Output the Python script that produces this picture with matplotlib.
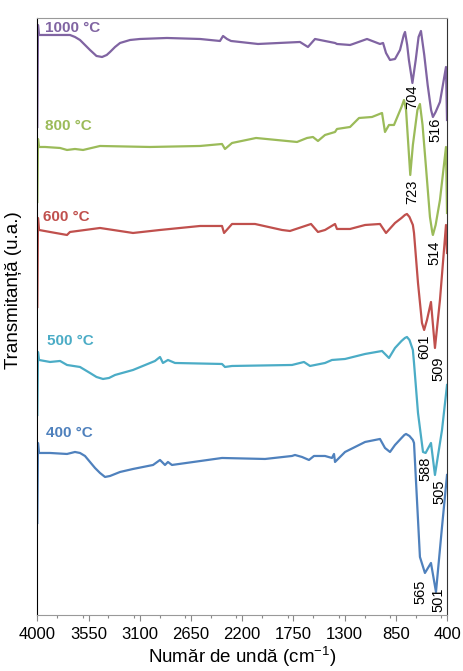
import numpy as np
import matplotlib
matplotlib.use("Agg")
import matplotlib.pyplot as plt
from matplotlib.ticker import MultipleLocator

plt.rcParams['font.family'] = ['Liberation Sans', 'DejaVu Sans']

# FTIR spectra, wavenumber (cm-1) and stacked transmittance (a.u.)
wn_1000 = [4000, 3994, 3985, 3713, 3669, 3625, 3581, 3537, 3480, 3431, 3390, 3361, 3317,
           3273, 3185, 3098, 2861, 2570, 2395, 2368, 2333, 2298, 2061, 1692, 1622, 1560,
           1384, 1367, 1252, 1226, 1103, 989, 962, 936, 901, 857, 813, 780, 769, 750,
           735, 704, 675, 650, 629, 600, 570, 540, 524, 500, 462, 409, 400]
t_1000 = [488, 590, 580, 580, 578, 575, 570, 565, 559, 558, 560, 563, 568,
          572, 575, 576, 577, 576, 574, 579, 576, 574, 571, 573, 568, 576,
          572, 571, 570, 571, 576, 571, 572, 562, 555, 556, 565, 580, 583, 570,
          555, 532, 555, 578, 584, 560, 530, 505, 498, 503, 513, 548, 495]

wn_800 = [4000, 3994, 3985, 3932, 3800, 3739, 3669, 3598, 3449, 3010, 2570, 2377, 2351,
          2289, 2078, 1718, 1630, 1578, 1534, 1472, 1384, 1367, 1252, 1173, 1059, 971,
          945, 910, 866, 800, 778, 760, 740, 723, 700, 660, 638, 615, 585, 550, 530,
          524, 500, 462, 409, 400]
t_800 = [413, 476, 468, 468, 467, 465, 466, 465, 469, 468, 469, 471, 466,
         472, 477, 473, 477, 478, 474, 480, 483, 486, 488, 497, 498, 502,
         483, 490, 490, 508, 515, 505, 470, 440, 470, 505, 511, 490, 448, 398, 383,
         380, 390, 415, 468, 402]

wn_600 = [4000, 3994, 3985, 3888, 3739, 3713, 3449, 3159, 2922, 2570, 2377, 2359, 2289,
          2087, 1850, 1780, 1674, 1595, 1534, 1472, 1384, 1367, 1252, 1120, 989, 936,
          857, 800, 770, 752, 730, 700, 690, 655, 620, 601, 576, 541, 506, 462, 409, 400]
t_600 = [308, 397, 385, 383, 380, 383, 387, 382, 385, 389, 389, 382, 391,
         391, 385, 384, 388, 391, 383, 385, 391, 386, 386, 390, 391, 382,
         392, 397, 400, 401, 398, 390, 382, 332, 292, 285, 295, 313, 267, 315, 390, 362]

wn_500 = [4000, 3994, 3985, 3888, 3800, 3739, 3625, 3537, 3480, 3423, 3370, 3317, 3159,
          2966, 2922, 2896, 2852, 2790, 2377, 2351, 2289, 1762, 1657, 1604, 1472, 1411,
          1296, 1120, 971, 910, 857, 800, 770, 752, 730, 700, 690, 655, 611, 588, 541,
          506, 444, 400]
t_500 = [200, 263, 255, 253, 254, 250, 248, 242, 238, 236, 237, 240, 245,
         254, 258, 252, 255, 252, 251, 248, 249, 250, 253, 249, 252, 255,
         256, 261, 264, 257, 267, 274, 277, 278, 275, 265, 252, 202, 163, 162, 172,
         140, 185, 230]

wn_400 = [4000, 3994, 3985, 3888, 3739, 3669, 3625, 3581, 3537, 3493, 3449, 3405, 3361,
          3317, 3273, 3159, 2983, 2922, 2878, 2852, 2817, 2377, 1999, 1762, 1736, 1674,
          1613, 1569, 1472, 1411, 1393, 1384, 1296, 1120, 989, 945, 901, 857, 800, 775,
          760, 730, 700, 690, 664, 638, 594, 541, 497, 444, 400]
t_400 = [92, 172, 162, 162, 161, 163, 162, 159, 153, 147, 142, 138, 139,
         141, 143, 146, 150, 155, 150, 153, 150, 157, 156, 159, 160, 158,
         155, 159, 159, 157, 161, 153, 163, 173, 176, 167, 163, 170, 177, 180,
         181, 179, 175, 172, 115, 58, 42, 52, 23, 88, 140]

series = [
    ("1000 °C", wn_1000, t_1000, "#8064A2", 3932, 583),
    ("800 °C", wn_800, t_800, "#9BBB59", 3932, 485),
    ("600 °C", wn_600, t_600, "#C0504D", 3950, 394),
    ("500 °C", wn_500, t_500, "#4BACC6", 3915, 270),
    ("400 °C", wn_400, t_400, "#4F81BD", 3924, 178),
]

# band labels: text, wavenumber, transmittance of label top
bands = [("704", 703, 530), ("516", 506, 497), ("723", 708, 435), ("514", 510, 374),
         ("601", 597, 280), ("509", 479, 258), ("588", 589, 158), ("505", 470, 135),
         ("565", 630, 35), ("501", 475, 27)]

fig = plt.figure(figsize=(4.64, 6.71), dpi=100)
ax = fig.add_axes([0.0804, 0.0835, 0.883, 0.8897])

for name, wn, t, col, lx, ly in series:
    ax.plot(wn, t, color=col, lw=1.6, solid_joinstyle='round')
    ax.text(lx, ly, name, color=col, fontsize=11, fontweight='bold', va='baseline', ha='left')

for txt, x, y in bands:
    ax.text(x, y, txt, rotation=90, ha='center', va='top', fontsize=10.5, color='black')

ax.set_xlim(4000, 400)
ax.set_ylim(0, 597)
ax.set_xticks(np.arange(4000, 399, -450))
ax.xaxis.set_minor_locator(MultipleLocator(225))
ax.tick_params(axis='x', which='major', direction='out', length=4, width=0.8,
               color='#888888', labelsize=12, pad=5)
ax.tick_params(axis='x', which='minor', direction='out', length=2.5, width=0.8, color='#888888')
ax.set_yticks([])

ax.spines['left'].set_color('black')
ax.spines['right'].set_color('#333333')
ax.spines['top'].set_color('#999999')
ax.spines['bottom'].set_color('#999999')

ax.set_xlabel('Număr de undă (cm$^{\\mathregular{-1}}$)', fontsize=13.5, labelpad=1.5)
ax.set_ylabel('Transmitanță (u.a.)', fontsize=13.5)
ax.yaxis.set_label_coords(-0.037, 0.544)

fig.savefig("out.png", dpi=100)
